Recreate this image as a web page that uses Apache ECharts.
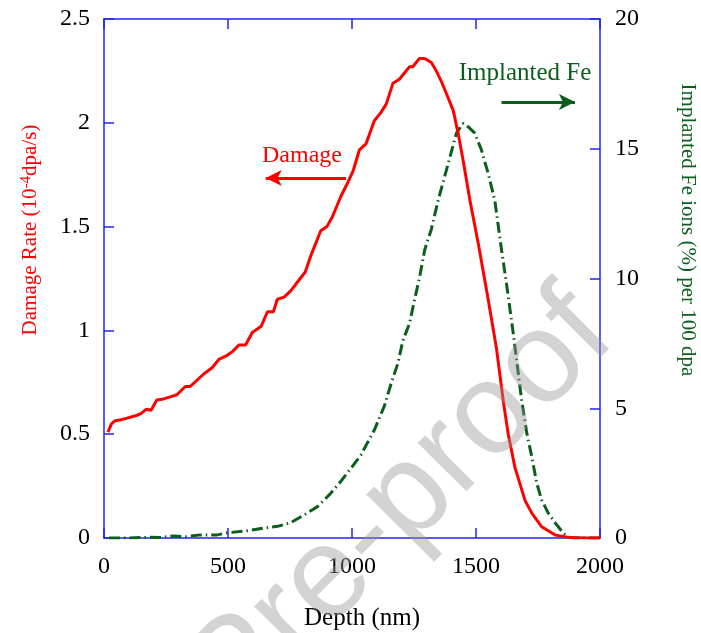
<!DOCTYPE html>
<html style="height: 100%">
<head>
    <meta charset="utf-8">
    <script src="https://cdn.jsdelivr.net/npm/echarts@6/dist/echarts.min.js"></script>
</head>
<body style="height: 100%; margin: 0; background: #fff">
    <div id="main" style="width: 701px; height: 633px"></div>
    <script type="text/javascript">
        // damage rate (10^-4 dpa/s) vs depth (nm)
        var depthDamage = [16, 30, 45, 70, 100, 130, 150, 170, 190, 213, 240, 267, 294, 328, 348, 375, 402, 436, 463, 497,
            520, 544, 571, 598, 634, 659, 683, 699, 726, 753, 791, 811, 834, 874, 899, 922, 953, 982, 1005, 1030,
            1057, 1090, 1117, 1138, 1165, 1191, 1232, 1245, 1272, 1293, 1320, 1340, 1360, 1381, 1408, 1428, 1448, 1475, 1509, 1549,
            1583, 1610, 1630, 1657, 1698, 1725, 1765, 1819, 1873, 1950, 2000];
        var damageRate = [0.51, 0.55, 0.565, 0.57, 0.58, 0.59, 0.6, 0.62, 0.615, 0.665, 0.67, 0.68, 0.69, 0.73, 0.73, 0.76, 0.79, 0.82, 0.86, 0.88,
            0.9, 0.93, 0.93, 0.99, 1.02, 1.09, 1.09, 1.15, 1.16, 1.19, 1.25, 1.28, 1.36, 1.48, 1.5, 1.55, 1.64, 1.71, 1.77, 1.87,
            1.9, 2.01, 2.05, 2.09, 2.19, 2.21, 2.27, 2.27, 2.31, 2.31, 2.29, 2.25, 2.2, 2.14, 2.06, 1.95, 1.82, 1.63, 1.42, 1.15,
            0.91, 0.66, 0.5, 0.34, 0.18, 0.12, 0.054, 0.014, 0.003, 0, 0];

        // implanted Fe ions (%) per 100 dpa vs depth (nm)
        var depthFe = [20, 100, 186, 230, 281, 330, 389, 456, 497, 578, 659, 700, 753, 807, 861, 908, 949, 996, 1036, 1090,
            1131, 1158, 1185, 1205, 1232, 1252, 1273, 1293, 1320, 1347, 1387, 1421, 1448, 1468, 1495, 1522, 1549, 1576, 1603, 1623,
            1650, 1684, 1705, 1725, 1745, 1765, 1792, 1826, 1853, 1873, 1900, 2000];
        var feIons = [0, 0, 0.03, 0.02, 0.08, 0.05, 0.12, 0.12, 0.2, 0.28, 0.4, 0.45, 0.59, 0.89, 1.21, 1.66, 2.11, 2.69, 3.2, 4.16,
            5.1, 5.96, 6.73, 7.6, 8.27, 9.17, 10.07, 11.1, 11.9, 13.0, 14.4, 15.6, 15.98, 15.85, 15.6, 14.95, 14.05, 13.0, 11.1, 9.8,
            7.9, 5.32, 4.03, 3.13, 2.11, 1.46, 0.95, 0.5, 0.18, 0.03, 0, 0];

        var xTicks = [0, 500, 1000, 1500, 2000];

        var RED = '#ff0000';
        var GREEN = '#0b5e1c';
        var BLUE = '#2424ee';
        var SERIF = '"Liberation Serif", "DejaVu Serif", serif';

        function pairs(xs, ys) {
            return xs.map(function (x, i) { return [x, ys[i]]; });
        }
        function plain(v) { return String(v); }

        var chartDom = document.getElementById('main');
        var myChart = echarts.init(chartDom);

        var axisCommon = {
            axisLine: { show: true, onZero: false, lineStyle: { color: BLUE, width: 1.5 } },
            axisTick: { show: true, inside: true, length: 10, lineStyle: { color: BLUE, width: 1.5 } },
            splitLine: { show: false }
        };
        function labelStyle(margin) {
            return { color: '#000', fontFamily: SERIF, fontSize: 24, margin: margin, formatter: plain };
        }

        var option = {
            animation: false,
            backgroundColor: '#fff',
            grid: { left: 104, right: 101, top: 19, bottom: 95, containLabel: false, outerBoundsMode: 'none' },
            xAxis: [
                Object.assign({}, axisCommon, {
                    type: 'value', min: xTicks[0], max: xTicks[xTicks.length - 1], interval: 500,
                    position: 'bottom',
                    name: 'Depth (nm)', nameLocation: 'middle', nameGap: 68,
                    nameTextStyle: { color: '#000', fontFamily: SERIF, fontSize: 25, padding: [0, 0, 0, 20] },
                    axisLabel: labelStyle(17)
                }),
                Object.assign({}, axisCommon, {
                    type: 'value', min: 0, max: 2000, interval: 500,
                    position: 'top',
                    axisLabel: { show: false }
                })
            ],
            yAxis: [
                Object.assign({}, axisCommon, {
                    type: 'value', min: 0, max: 2.5, interval: 0.5, position: 'left',
                    axisLabel: labelStyle(14)
                }),
                Object.assign({}, axisCommon, {
                    type: 'value', min: 0, max: 20, interval: 5, position: 'right',
                    axisLabel: labelStyle(15)
                })
            ],
            series: [
                {
                    name: 'Damage', type: 'line', xAxisIndex: 0, yAxisIndex: 0,
                    data: pairs(depthDamage, damageRate),
                    showSymbol: false, symbol: 'none',
                    lineStyle: { color: RED, width: 3 },
                    z: 3,
                    markLine: {
                        silent: true, symbol: ['none', 'arrow'], symbolSize: [12, 16],
                        label: { show: false },
                        lineStyle: { color: RED, width: 3, type: 'solid' },
                        data: [[{ coord: [976, 1.734] }, { coord: [652, 1.734] }]]
                    }
                },
                {
                    name: 'Implanted Fe', type: 'line', xAxisIndex: 0, yAxisIndex: 1,
                    data: pairs(depthFe, feIons),
                    showSymbol: false, symbol: 'none',
                    lineStyle: { color: GREEN, width: 3, type: [11, 4, 1.5, 4] },
                    z: 2,
                    markLine: {
                        silent: true, symbol: ['none', 'arrow'], symbolSize: [12, 16],
                        label: { show: false },
                        lineStyle: { color: GREEN, width: 3, type: 'solid' },
                        data: [[{ coord: [1603, 16.8] }, { coord: [1899, 16.8] }]]
                    }
                }
            ],
            graphic: [
                {
                    type: 'text', x: 302, y: 156,
                    style: { text: 'Damage', fill: RED, font: '24px ' + SERIF, textAlign: 'center', textVerticalAlign: 'middle' }
                },
                {
                    type: 'text', x: 525, y: 73,
                    style: { text: 'Implanted Fe', fill: GREEN, font: '25px ' + SERIF, textAlign: 'center', textVerticalAlign: 'middle' }
                },
                {
                    type: 'text', x: 30, y: 230, rotation: Math.PI / 2,
                    style: {
                        text: '{n|Damage Rate (10}{s|-4}{n|dpa/s)}',
                        textAlign: 'center', textVerticalAlign: 'middle',
                        rich: {
                            n: { fill: RED, fontFamily: SERIF, fontSize: 21 },
                            s: { fill: RED, fontFamily: SERIF, fontSize: 15, verticalAlign: 'top', padding: [0, 0, 8, 0] }
                        }
                    }
                },
                {
                    type: 'text', x: 688, y: 230, rotation: -Math.PI / 2,
                    style: { text: 'Implanted Fe ions (%) per 100 dpa', fill: GREEN, font: '21px ' + SERIF, textAlign: 'center', textVerticalAlign: 'middle' }
                },
                {
                    type: 'text', x: 639, y: 360, rotation: 45 * Math.PI / 180, z: 100, silent: true,
                    style: {
                        text: 'Journal Pre-proof', fill: 'rgba(150,150,150,0.42)',
                        font: '130px "Liberation Sans", Arial, sans-serif', textAlign: 'right', textVerticalAlign: 'bottom'
                    }
                }
            ]
        };

        myChart.setOption(option);
    </script>
</body>
</html>
